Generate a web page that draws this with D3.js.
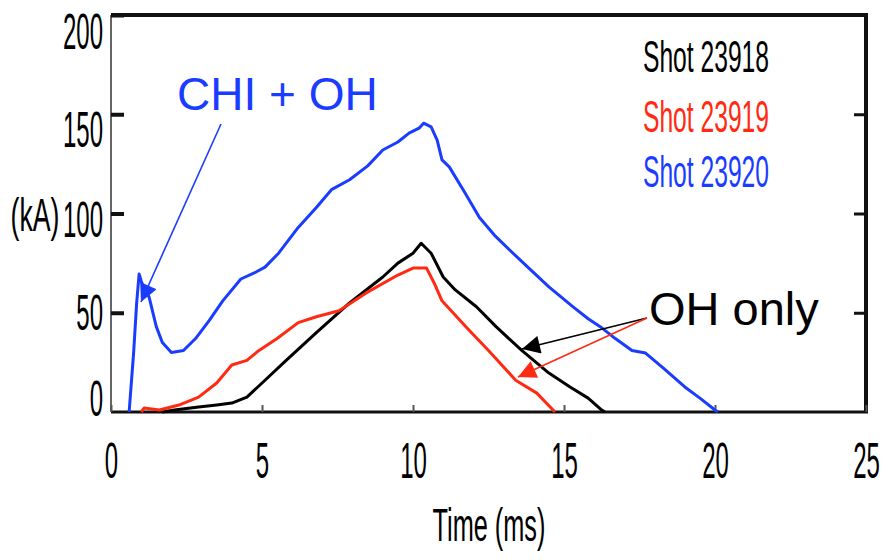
<!DOCTYPE html>
<html><head><meta charset="utf-8">
<script src="https://cdn.jsdelivr.net/npm/d3@7"></script>
<style>body{margin:0;background:#fff}</style>
</head><body>
<svg id="c" width="889" height="560"></svg>
<script>
// ---- data ----
const tBlue = [0.6,0.75,0.85,0.93,1.0,1.1,1.26,1.5,1.7,2.0,2.4,2.8,3.25,3.7,4.3,4.8,5.1,5.55,6.2,6.8,7.3,7.9,8.5,9.0,9.5,9.87,10.2,10.35,10.6,10.8,10.96,11.2,11.7,12.2,12.7,13.2,13.8,14.5,15.3,15.8,16.2,16.7,17.25,17.7,18.3,19.0,19.5,20.0,20.1];
const iBlue = [0,30,55,69.5,66,62,58,43,35,30,31,37,46,56,67,70.5,73,80,93,103,112,117,124,132,136,140.5,143,145.5,143.6,137,127,123.5,111,98,89,81.6,73,63,53,47,43,37,31,29.7,22,12.6,7,1,0];
const tBlack = [1.7,2.1,2.9,3.5,4.0,4.5,5.1,5.8,6.8,7.9,9.0,9.5,10.0,10.27,10.6,11.0,11.4,12.1,12.75,13.6,14.5,15.2,15.8,16.25,16.35];
const iBlack = [0,1,2.5,3.5,4.5,7.5,16,26,40,55,68,75,80,85,80,68,61.5,53,43,31,19.6,12.6,7,1,0];
const tRed = [1.0,1.1,1.6,2.25,2.9,3.5,4.0,4.5,4.9,5.5,6.2,6.8,7.55,8.45,9.5,10.0,10.45,10.7,10.96,11.75,12.5,13.4,14.1,14.7];
const iRed = [0,2,1,3.5,7.5,14.6,23.7,26,31,37,45,48,51,60,69,72.5,72.5,65,56,43,31,16,9.5,0];
const seriesNames = ["Shot 23918","Shot 23919","Shot 23920"];
const xTicks = [0,5,10,15,20,25];
const yTicks = [0,50,100,150,200];
const xTitle = "Time (ms)";
const yTitle = "(kA)";
const noteCHI = "CHI + OH";
const noteOH = "OH only";

// ---- layout ----
const L=111, R=866, T=15, B=412;
const svg = d3.select("#c");
const x = d3.scaleLinear().domain([0,25]).range([L,R]);
const y = d3.scaleLinear().domain([0,200]).range([B,T]);
const colors = ["#000000","#ff2a12","#1a3cff"];
const FONT = "'Liberation Sans', Arial, sans-serif";

function condensed(sel, sx){
  sel.each(function(){
    const t=d3.select(this);
    const px=+t.attr("data-x"), py=+t.attr("data-y");
    t.attr("x",0).attr("y",0).attr("transform",`translate(${px},${py}) scale(${sx},1)`);
  });
}

// frame
svg.append("line").attr("x1",L).attr("x2",L).attr("y1",T).attr("y2",B).attr("stroke","#333").attr("stroke-width",1.5);
svg.append("line").attr("x1",L).attr("x2",R+2).attr("y1",B).attr("y2",B).attr("stroke","#111").attr("stroke-width",3);
svg.append("line").attr("x1",L).attr("x2",R+2).attr("y1",T).attr("y2",T).attr("stroke","#111").attr("stroke-width",4);
svg.append("line").attr("x1",R).attr("x2",R).attr("y1",T).attr("y2",B).attr("stroke","#111").attr("stroke-width",4);

// x axis
const gx = svg.append("g").attr("transform",`translate(0,${B})`)
  .call(d3.axisBottom(x).tickValues(xTicks).tickSizeInner(-7).tickSizeOuter(0).tickPadding(0));
gx.select(".domain").remove();
gx.selectAll(".tick line").attr("stroke","#555").attr("stroke-width",2);
gx.selectAll(".tick text").attr("font-family",FONT).attr("font-size",50).attr("fill","#000")
  .attr("text-anchor","middle").attr("dy",null)
  .each(function(d){ d3.select(this).attr("data-x",0).attr("data-y",66); });
condensed(gx.selectAll(".tick text"),0.48);

// y axis
const yLabelOffset = {0:-15,50:-1,100:5,150:14,200:15};
const gy = svg.append("g").attr("transform",`translate(${L},0)`)
  .call(d3.axisLeft(y).tickValues(yTicks).tickSizeInner(-13).tickSizeOuter(0));
gy.select(".domain").remove();
gy.selectAll(".tick line").attr("stroke","#111").attr("stroke-width",4).attr("display",d=>d===0?"none":null);
gy.selectAll(".tick text").attr("font-family",FONT).attr("font-size",50).attr("fill","#000")
  .attr("text-anchor","end").attr("dy",null)
  .each(function(d){ d3.select(this).attr("data-x",-8).attr("data-y",18+yLabelOffset[d]); });
condensed(gy.selectAll(".tick text"),0.48);

// right ticks
const gr = svg.append("g").attr("transform",`translate(${R},0)`)
  .call(d3.axisRight(y).tickValues([50,100,150]).tickSizeInner(-12).tickSizeOuter(0).tickFormat(""));
gr.select(".domain").remove();
gr.selectAll(".tick line").attr("stroke","#111").attr("stroke-width",3);

// titles
svg.append("text").text(xTitle).attr("font-family",FONT).attr("font-size",46).attr("text-anchor","middle")
  .attr("data-x",489).attr("data-y",541).call(condensed,0.55);
svg.append("text").text(yTitle).attr("font-family",FONT).attr("font-size",46).attr("text-anchor","middle")
  .attr("data-x",35).attr("data-y",231).call(condensed,0.58);

// series
const line = d3.line().x(d=>x(d[0])).y(d=>y(d[1]));
const data = [d3.zip(tBlack,iBlack), d3.zip(tRed,iRed), d3.zip(tBlue,iBlue)];
data.forEach((d,i)=>{
  svg.append("path").datum(d).attr("d",line).attr("fill","none")
    .attr("stroke",colors[i]).attr("stroke-width",3).attr("stroke-linejoin","round");
});

// legend
const legY = [57,117,172];
seriesNames.forEach((n,i)=>{
  svg.append("text").text(n).attr("font-family",FONT).attr("font-size",44).attr("fill",colors[i])
    .attr("text-anchor","start").attr("data-x",643).attr("data-y",legY[i]+15).call(condensed,0.56);
});

// annotations
const defs = svg.append("defs");
[["blue","#1a3cff"],["black","#000"],["red","#ff2a12"]].forEach(([id,c])=>{
  defs.append("marker").attr("id","ah-"+id).attr("viewBox","0 0 10 10").attr("refX",10).attr("refY",5)
    .attr("markerUnits","userSpaceOnUse").attr("markerWidth",22).attr("markerHeight",18).attr("orient","auto")
    .append("path").attr("d","M0,0 L10,5 L0,10 z").attr("fill",c);
});
svg.append("text").text(noteCHI).attr("x",177).attr("y",110).attr("font-family",FONT).attr("font-size",46).attr("fill","#1a3cff");
svg.append("line").attr("x1",221).attr("y1",124).attr("x2",141).attr("y2",302).attr("stroke","#1a3cff").attr("stroke-width",1.6).attr("marker-end","url(#ah-blue)");
svg.append("text").text(noteOH).attr("x",649).attr("y",325).attr("font-family",FONT).attr("font-size",47).attr("fill","#000");
svg.append("line").attr("x1",647).attr("y1",318).attr("x2",522).attr("y2",349).attr("stroke","#000").attr("stroke-width",1.6).attr("marker-end","url(#ah-black)");
svg.append("line").attr("x1",647).attr("y1",318).attr("x2",518).attr("y2",377).attr("stroke","#ff2a12").attr("stroke-width",1.6).attr("marker-end","url(#ah-red)");
</script>
</body></html>
